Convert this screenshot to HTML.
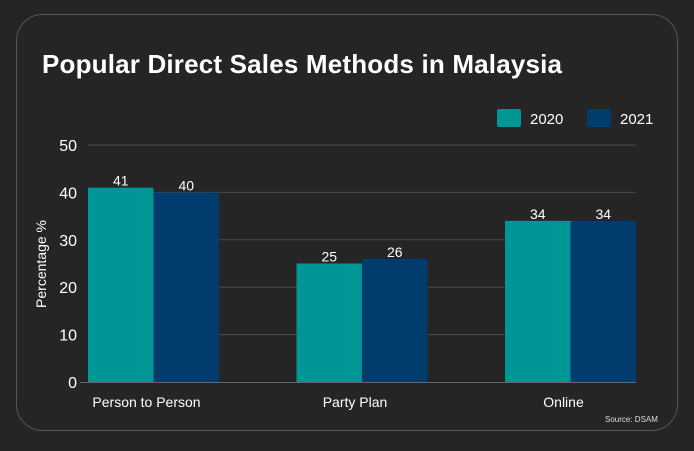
<!DOCTYPE html>
<html><head><meta charset="utf-8"><style>
body{margin:0;background:#252525;width:694px;height:446px;overflow:hidden;font-family:"Liberation Sans",sans-serif}
</style></head><body>
<svg width="694" height="446">
<rect x="0" y="0" width="694" height="446" fill="#252525"/>
<rect x="16.5" y="14.5" width="661" height="416" rx="26" fill="none" stroke="#555"/>
<text x="42" y="73" fill="#fff" font-size="26" font-weight="bold" textLength="520">Popular Direct Sales Methods in Malaysia</text>
<rect x="497" y="109" width="24" height="18" rx="2" fill="#009696"/>
<text x="530" y="124" fill="#fff" font-size="15">2020</text>
<rect x="587" y="109" width="24" height="18" rx="2" fill="#003d6e"/>
<text x="620" y="124" fill="#fff" font-size="15">2021</text>
<text transform="translate(46,264) rotate(-90)" text-anchor="middle" fill="#fff" font-size="14">Percentage %</text>
<text x="605" y="422" fill="#ddd" font-size="8">Source: DSAM</text>
<g id="g"></g>
</svg>
<script>
const categories=["Person to Person","Party Plan","Online"];
const series2020=[41,25,34];
const series2021=[40,26,34];
const yTicks=[0,10,20,30,40,50];
const g=document.getElementById('g');
const NS='http://www.w3.org/2000/svg';
const y=v=>382-v*4.74;
const cx=i=>153.5+i*208.5;
const bw=65.5;
function mk(t,a){const e=document.createElementNS(NS,t);for(const k in a)e.setAttribute(k,a[k]);g.appendChild(e);return e;}
yTicks.forEach(t=>{
 if(t>0){const l=mk('line',{x1:88,x2:636,y1:y(t),y2:y(t),stroke:'#4a4a4a'});
 
 }
 const tx=mk('text',{x:77,y:y(t)+6,fill:'#fff','font-size':16,'text-anchor':'end'});tx.textContent=t;
 
 
});
categories.forEach((c,i)=>{
 [[series2020,'#009696','2020',-bw],[series2021,'#003d6e','2021',0]].forEach(([s,col,n,off])=>{
  const x=cx(i)+off;
  const r=mk('rect',{x:x,y:y(s[i]),width:bw,height:382-y(s[i]),fill:col});
  
  
  const t=mk('text',{x:x+bw/2,y:y(s[i])-2,fill:'#fff','font-size':14,'text-anchor':'middle'});t.textContent=s[i];
  
  
 });
 const t=mk('text',{x:cx(i)-7,y:407,fill:'#fff','font-size':14,'text-anchor':'middle'});t.textContent=c;
 
 
});
const ax=mk('line',{x1:80,x2:636,y1:382.5,y2:382.5,stroke:'#666'});


</script>
</body></html>
